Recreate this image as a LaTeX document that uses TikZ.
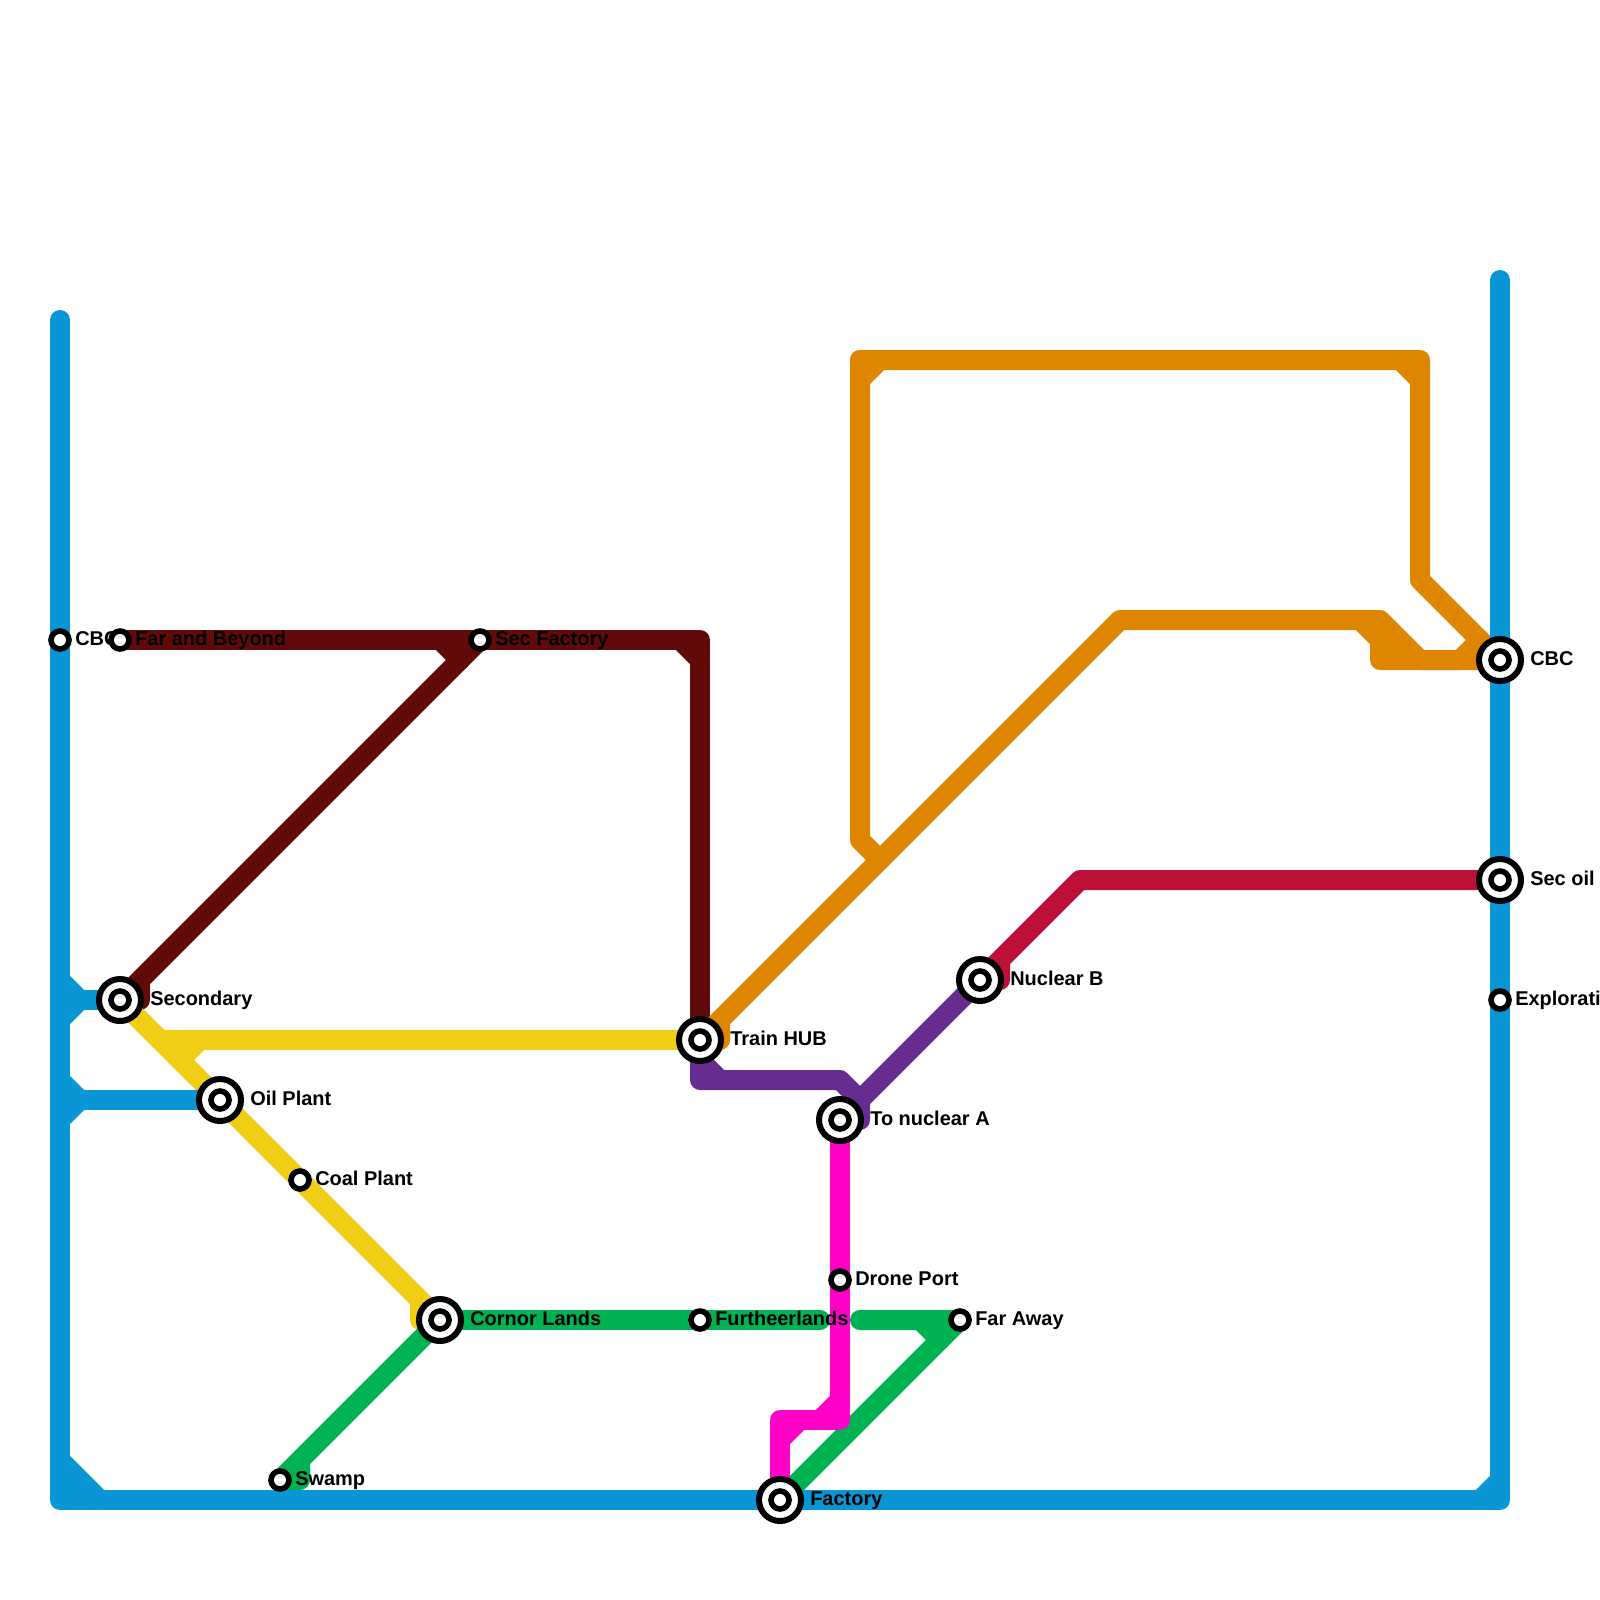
\documentclass[tikz,border=0pt]{standalone}
\usepackage{fontspec}
\setmainfont{Liberation Sans}
\usetikzlibrary{backgrounds}
\definecolor{lineaAzul}{HTML}{0896D7}
\definecolor{lineaGranate}{HTML}{610A0A}
\definecolor{lineaAmarillo}{HTML}{F0CE15}
\definecolor{lineaNaranja}{HTML}{DF8600}
\definecolor{lineaRojo}{HTML}{BD1038}
\definecolor{lineaVioleta}{HTML}{662C90}
\definecolor{lineaVerde}{HTML}{00B251}
\definecolor{lineaRosa}{HTML}{FF00C8}
\tikzset{
  metro/.style={line width=0.5cm, line cap=round, line join=round},
  azul/.style={metro, draw=lineaAzul},
  granate/.style={metro, draw=lineaGranate},
  amarillo/.style={metro, draw=lineaAmarillo},
  naranja/.style={metro, draw=lineaNaranja},
  rojo/.style={metro, draw=lineaRojo},
  violeta/.style={metro, draw=lineaVioleta},
  verde/.style={metro, draw=lineaVerde},
  rosa/.style={metro, draw=lineaRosa},
  parada/.style={
    circle, draw=black, fill=white, line width=0.14cm,
    minimum size=0.45cm, inner sep=0pt
  },
  enlace/.style={
    circle, draw=black, fill=white, line width=0.15cm,
    minimum size=1.05cm, inner sep=0pt, label={[parada]center:{}}
  },
  rotulo/.style={anchor=base west, inner sep=0pt, font=\fontsize{14.2pt}{16pt}\selectfont\bfseries, yshift=-0.125cm},
  rotulop/.style={rotulo, xshift=0.375cm},
  rotuloe/.style={rotulo, xshift=0.75cm}
}
\begin{document}
\begin{tikzpicture}[x=0.5cm, y=-0.5cm]
  \useasboundingbox (0,0) rectangle (80,80);

  \node[parada] (cbcoeste) at (3,32) {};
  \node[rotulop] (tcbcoeste) at (cbcoeste) {CBC};
  \node[parada] (beyond) at (6,32) {};
  \node[rotulop] (tbeyond) at (beyond) {Far and Beyond};
  \node[parada] (secfactory) at (24,32) {};
  \node[rotulop] (tsecfactory) at (secfactory) {Sec Factory};
  \node[enlace] (secondary) at (6,50) {};
  \node[rotuloe] (tsecondary) at (secondary) {Secondary};
  \node[enlace] (hub) at (35,52) {};
  \node[rotuloe] (thub) at (hub) {Train HUB};
  \node[enlace] (oilplant) at (11,55) {};
  \node[rotuloe] (toilplant) at (oilplant) {Oil Plant};
  \node[parada] (coalplant) at (15,59) {};
  \node[rotulop] (tcoalplant) at (coalplant) {Coal Plant};
  \node[enlace] (cornor) at (22,66) {};
  \node[rotuloe] (tcornor) at (cornor) {Cornor Lands};
  \node[parada] (further) at (35,66) {};
  \node[rotulop] (tfurther) at (further) {Furtheerlands};
  \node[parada] (swamp) at (14,74) {};
  \node[rotulop] (tswamp) at (swamp) {Swamp};
  \node[enlace] (factory) at (39,75) {};
  \node[rotuloe] (tfactory) at (factory) {Factory};
  \node[parada] (drone) at (42,64) {};
  \node[rotulop] (tdrone) at (drone) {Drone Port};
  \node[parada] (faraway) at (48,66) {};
  \node[rotulop] (tfaraway) at (faraway) {Far Away};
  \node[enlace] (nucleara) at (42,56) {};
  \node[rotuloe] (tnucleara) at (nucleara) {To nuclear A};
  \node[enlace] (nuclearb) at (49,49) {};
  \node[rotuloe] (tnuclearb) at (nuclearb) {Nuclear B};
  \node[enlace] (cbceste) at (75,33) {};
  \node[rotuloe] (tcbceste) at (cbceste) {CBC};
  \node[enlace] (secoil) at (75,44) {};
  \node[rotuloe] (tsecoil) at (secoil) {Sec oil};
  \node[parada] (explora) at (75,50) {};
  \node[rotulop] (texplora) at (explora) {Explorati};

  \begin{scope}[on background layer]
    % granate
    \draw[granate] (beyond.center) -- (secfactory.center) -- (34,32) -- (35,32) -- (hub.center);
    \draw[granate] (secfactory.center) -- (7,49) -- (7,50) -- (secondary.center) -- cycle;
    \draw[granate] (22,32) -- (23,33);
    \draw[granate] (34,32) -- (35,33);
    % amarillo
    \draw[amarillo] (secondary.center) -- (8,52) -- (hub.center);
    \draw[amarillo] (secondary.center) -- (oilplant.center) -- (coalplant.center) -- (cornor.center) -- (21,66) -- (21,65);
    \draw[amarillo] (10,52) -- (9,53);
    % naranja
    \draw[naranja] (hub.center) -- (36,52) -- (36,51) -- (hub.center);
    \draw[naranja] (36,51) -- (56,31) -- (69,31) -- (71,33) -- (73,33);
    \draw[naranja] (68,31) -- (69,32) -- (69,33) -- (cbceste.center);
    \draw[naranja] (69,32) -- (70,33);
    \draw[naranja] (43,18) -- (71,18) -- (71,29) -- (cbceste.center);
    \draw[naranja] (44,43) -- (43,42) -- (43,18);
    \draw[naranja] (44,18) -- (43,19);
    \draw[naranja] (70,18) -- (71,19);
    \draw[naranja] (74,32) -- (73,33);
    % rojo
    \draw[rojo] (secoil.center) -- (54,44) -- (50,48) -- (50,49) -- (nuclearb.center) -- (50,48);
    % violeta
    \draw[violeta] (hub.center) -- (35,54) -- (42,54) -- (43,55) -- (43,56) -- (nucleara.center) -- (43,55);
    \draw[violeta] (nuclearb.center) -- (43,55);
    \draw[violeta] (35,53) -- (36,54);
    % verde
    \draw[verde] (cornor.center) -- (further.center) -- (41,66);
    \draw[verde] (cornor.center) -- (swamp.center) -- (15,74) -- (15,73);
    \draw[verde] (43,66) -- (faraway.center) -- (factory.center);
    \draw[verde] (46,66) -- (47,67);
    % rosa
    \draw[rosa] (nucleara.center) -- (drone.center) -- (42,71) -- (39,71) -- (factory.center);
    \draw[rosa] (42,70) -- (41,71);
    \draw[rosa] (40,71) -- (39,72);
    % azul
    \draw[azul] (cbcoeste.center) -- (3,16);
    \draw[azul] (cbcoeste.center) -- (3,75) -- (factory.center) -- (75,75) -- (explora.center) -- (secoil.center) -- (cbceste.center) -- (75,14);
    \draw[azul] (3,73) -- (5,75);
    \draw[azul] (3,74) -- (4,75);
    \draw[azul] (75,74) -- (74,75);
    \draw[azul] (3,49) -- (4,50) -- (3,51);
    \draw[azul] (4,50) -- (secondary.center);
    \draw[azul] (3,54) -- (4,55) -- (3,56);
    \draw[azul] (4,55) -- (oilplant.center);
  \end{scope}
\end{tikzpicture}
\end{document}
